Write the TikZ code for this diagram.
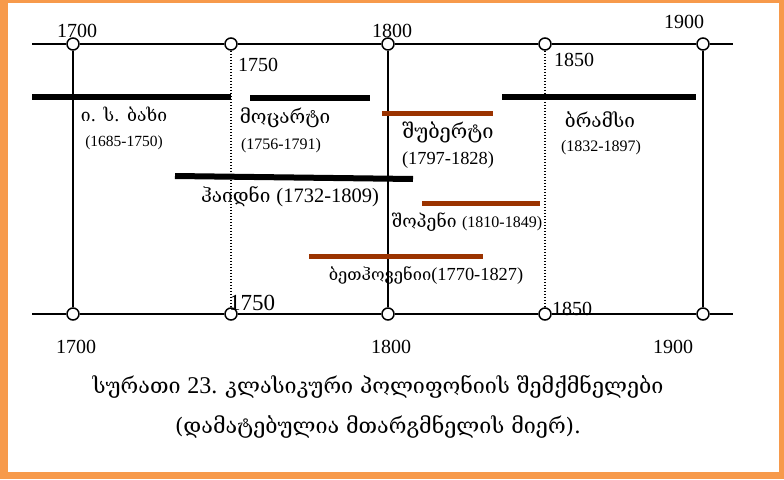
\documentclass[tikz,border=0pt]{standalone}
\usepackage{fontspec}
\newfontfamily\geo{DejaVu Serif}
\newfontfamily\num{Liberation Serif}
\definecolor{frameorange}{HTML}{F79A4B}
\definecolor{barbrown}{HTML}{9B3300}
\tikzset{
  axisline/.style={line width=1.6pt},
  halfline/.style={line width=1.4pt, dash pattern=on 1.2pt off 1.8pt},
  tickmark/.style={circle, draw, fill=white, line width=1.5pt, minimum size=12pt, inner sep=0pt},
  lifebar/.style={line width=6pt},
  lifebarb/.style={line width=5pt, draw=barbrown},
  lbl/.style={inner sep=0pt, anchor=center},
  yearlbl/.style={lbl, font=\num\fontsize{20}{22}\selectfont},
  composer/.style={lbl, font=\geo\fontsize{19}{21}\selectfont},
  lifedates/.style={lbl, font=\num\fontsize{16}{18}\selectfont},
}
\begin{document}
\begin{tikzpicture}[x=1pt,y=-1pt]
\useasboundingbox (0,0) rectangle (784,479);
% frame
\fill[frameorange] (0,0) rectangle (784,479);
\fill[white] (8,3) rectangle (779,472);

% year ticks on both axes
\foreach \yr/\xx in {1700/73,1750/231,1800/388,1850/545,1900/703}{
  \node[tickmark] (t\yr) at (\xx,44) {};
  \node[tickmark] (b\yr) at (\xx,314) {};
}
\coordinate (tL) at (32,44);  \coordinate (tR) at (733,44);
\coordinate (bL) at (32,314); \coordinate (bR) at (733,314);

\draw[axisline] (tL) -- (t1700) -- (t1750) -- (t1800) -- (t1850) -- (t1900) -- (tR);
\draw[axisline] (bL) -- (b1700) -- (b1750) -- (b1800) -- (b1850) -- (b1900) -- (bR);
\draw[axisline] (t1700) -- (b1700);
\draw[axisline] (t1800) -- (b1800);
\draw[axisline] (t1900) -- (b1900);
\draw[halfline] (t1750) -- (b1750);
\draw[halfline] (t1850) -- (b1850);

% year labels
\node[yearlbl] (y1700) at (77,31) {1700};
\node[yearlbl] (y1800) at (392,31) {1800};
\node[yearlbl] (y1900) at (684,22) {1900};
\node[yearlbl] (y1750) at (258,65) {1750};
\node[yearlbl] (y1850) at (574,60) {1850};
\node[lbl, font=\num\fontsize{23}{25}\selectfont] (z1750) at (252,303) {1750};
\node[yearlbl] (z1850) at (572,309) {1850};
\node[yearlbl] (w1700) at (76,347) {1700};
\node[yearlbl] (w1800) at (391,347) {1800};
\node[yearlbl] (w1900) at (673,347) {1900};

% life spans
\coordinate (bachA) at (32,97);  \coordinate (bachB) at (231,97);
\coordinate (mozA) at (250,98);  \coordinate (mozB) at (370,98);
\coordinate (braA) at (502,97);  \coordinate (braB) at (696,97);
\coordinate (hayA) at (175,176); \coordinate (hayB) at (413,179);
\coordinate (schA) at (382,113); \coordinate (schB) at (493,113);
\coordinate (choA) at (422,203); \coordinate (choB) at (540,203);
\coordinate (beeA) at (309,256); \coordinate (beeB) at (483,256);
\draw[lifebar] (bachA) -- (bachB);
\draw[lifebar] (mozA) -- (mozB);
\draw[lifebar] (braA) -- (braB);
\draw[lifebar] (hayA) -- (hayB);
\draw[lifebarb] (schA) -- (schB);
\draw[lifebarb] (choA) -- (choB);
\draw[lifebarb] (beeA) -- (beeB);

% composer names and dates
\node[composer, font=\geo\fontsize{17.5}{19}\selectfont] (bach) at (124,114) {ი. ს. ბახი};
\node[lifedates, font=\num\fontsize{15.5}{17}\selectfont] (bachd) at (124,143) {(1685-1750)};
\node[composer] (moz) at (285,118) {მოცარტი};
\node[lifedates] (mozd) at (281,146) {(1756-1791)};
\node[composer, font=\geo\fontsize{20}{22}\selectfont] (sch) at (448,132) {შუბერტი};
\node[lifedates, font=\num\fontsize{18.4}{20}\selectfont] (schd) at (448,160) {(1797-1828)};
\node[composer] (bra) at (600,120) {ბრამსი};
\node[lifedates] (brad) at (601,148) {(1832-1897)};
\node[lbl] (hay) at (290,197) {\geo\fontsize{19}{21}\selectfont ჰაიდნი \num\fontsize{20.5}{22}\selectfont(1732-1809)};
\node[lbl] (cho) at (467,222) {\geo\fontsize{17.5}{19}\selectfont შოპენი \num\fontsize{16}{18}\selectfont(1810-1849)};
\node[lbl] (bee) at (426,276) {\geo\fontsize{16.5}{18}\selectfont ბეთჰოვენიი\num\fontsize{18.4}{20}\selectfont(1770-1827)};

% caption
\node[lbl] (cap1) at (378,387) {\geo\fontsize{21.5}{24}\selectfont სურათი \num\fontsize{24}{26}\selectfont 23. \geo\fontsize{21.5}{24}\selectfont კლასიკური პოლიფონიის შემქმნელები};
\node[lbl] (cap2) at (378,427) {\geo\fontsize{21.5}{24}\selectfont (დამატებულია მთარგმნელის მიერ).};
\end{tikzpicture}
\end{document}
